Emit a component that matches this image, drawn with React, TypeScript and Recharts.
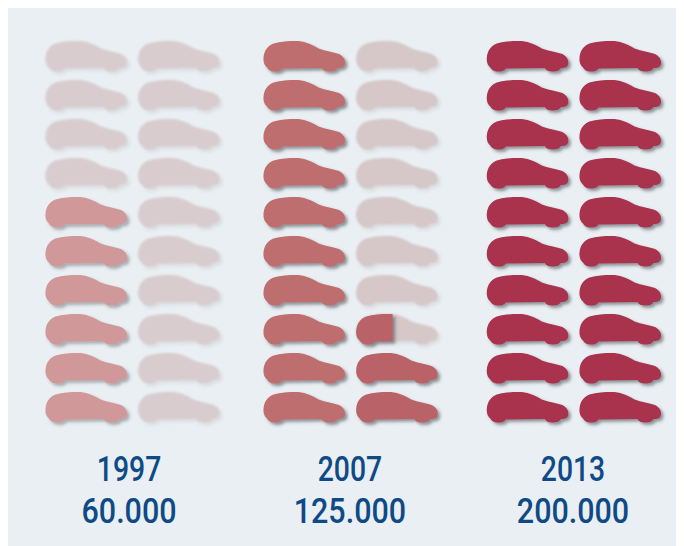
import React from 'react';
import { ScatterChart, Scatter, XAxis, YAxis } from 'recharts';

const years = ['1997', '2007', '2013'];
const valueLabels = ['60.000', '125.000', '200.000'];
const carsFilled = [6, 12.5, 20];

const ROWS = 10;
const COLUMNS = 2;
const GROUP_X = [0, 0.988, 2];
const LABEL_X = [0.195, 1.196, 2.207];
const COLUMN_STEP = 0.42;

const CAR_PATH =
  'M0 16.5 C0.5 10 4 5 10 2.5 C17 0.5 25 0 32 0 C40 0 47 2.5 55 7.5 C62 10 70 11 75.5 13 C79.5 15 81.5 18 81.5 21.5 C81.5 25 79.5 26.5 76 27 L74 27 C73 29.5 70 30.5 66 30.5 C62 30.5 59 29.5 58 27 L19 27.5 C17.5 30 14.5 30.5 11 30.5 C7.5 30.5 5 29 3.5 26.5 C1 24.5 -0.5 21 0 16.5Z';

const fillColors = [
  ['#d1989a', '#d1989a'],
  ['#bf6e70', '#b96368'],
  ['#a9304e', '#a9304e'],
];
const emptyColors = ['#d9cccf', '#d6c7c9', '#d6c7c9'];
const shadowFilters = ['url(#shadowMid)', 'url(#shadowStrong)', 'url(#shadowStrong)'];

// cars fill bottom up, left column first
const buildCars = (group: number) => {
  const cars = [];
  for (let col = 0; col < COLUMNS; col++) {
    for (let row = 0; row < ROWS; row++) {
      const order = col * ROWS + (ROWS - 1 - row);
      const share = Math.max(0, Math.min(1, carsFilled[group] - order));
      cars.push({ x: GROUP_X[group] + col * COLUMN_STEP, y: row, group, col, share });
    }
  }
  return cars;
};

const CarShape = (props: any) => {
  const { cx, cy, payload } = props;
  const { group, col, share } = payload;
  const id = `clip-${group}-${col}-${payload.y}`;
  const fill = fillColors[group][col];
  return (
    <g transform={`translate(${cx - 40.5},${cy - 15})`}>
      {share < 1 && (
        <g filter="url(#shadowSoft)">
          <path d={CAR_PATH} fill={emptyColors[group]} />
        </g>
      )}
      {share > 0 && (
        <>
          {share < 1 && (
            <clipPath id={id}>
              <rect x={-2} y={-2} width={81 * share * 0.9 + 2} height={36} />
            </clipPath>
          )}
          <g filter={shadowFilters[group]}>
            <g clipPath={share < 1 ? `url(#${id})` : undefined}>
              <path d={CAR_PATH} fill={fill} />
            </g>
          </g>
        </>
      )}
    </g>
  );
};

const YearTick = (props: any) => {
  const { x, y, index } = props;
  const common = { fontFamily: 'Roboto', fontSize: 35, fontWeight: 500, fill: '#0f4a86', textAnchor: 'middle' as const };
  return (
    <g>
      <text {...common} transform={`translate(${x},${y + 66}) scale(0.81,1)`}>{years[index]}</text>
      <text {...common} transform={`translate(${x},${y + 108}) scale(0.87,1)`}>{valueLabels[index]}</text>
    </g>
  );
};

export default function App() {
  return (
    <div style={{ width: 676, height: 538, background: '#e9eff2' }}>
      <ScatterChart width={676} height={538} margin={{ top: 48, right: 64, bottom: 0, left: 78 }}>
        <defs>
          <filter id="shadowStrong" x="-10%" y="-20%" width="125%" height="150%">
            <feGaussianBlur in="SourceGraphic" stdDeviation="0.5" result="body" />
            <feDropShadow in="body" dx="2.5" dy="2.5" stdDeviation="1.8" floodColor="#3c4a50" floodOpacity="0.55" />
          </filter>
          <filter id="shadowMid" x="-10%" y="-20%" width="125%" height="150%">
            <feGaussianBlur in="SourceGraphic" stdDeviation="0.7" result="body" />
            <feDropShadow in="body" dx="2.5" dy="2.5" stdDeviation="1.8" floodColor="#3c4a50" floodOpacity="0.4" />
          </filter>
          <filter id="shadowSoft" x="-10%" y="-20%" width="125%" height="150%">
            <feGaussianBlur in="SourceGraphic" stdDeviation="0.8" result="body" />
            <feDropShadow in="body" dx="2" dy="2" stdDeviation="1.8" floodColor="#3c4a50" floodOpacity="0.14" />
          </filter>
        </defs>
        <XAxis
          type="number"
          dataKey="x"
          domain={[0, 2 + COLUMN_STEP]}
          ticks={LABEL_X}
          interval={0}
          height={139}
          axisLine={false}
          tickLine={false}
          tick={<YearTick />}
        />
        <YAxis type="number" dataKey="y" domain={[0, ROWS - 1]} reversed hide />
        {years.map((year, i) => (
          <Scatter key={year} data={buildCars(i)} shape={<CarShape />} isAnimationActive={false} />
        ))}
      </ScatterChart>
    </div>
  );
}
